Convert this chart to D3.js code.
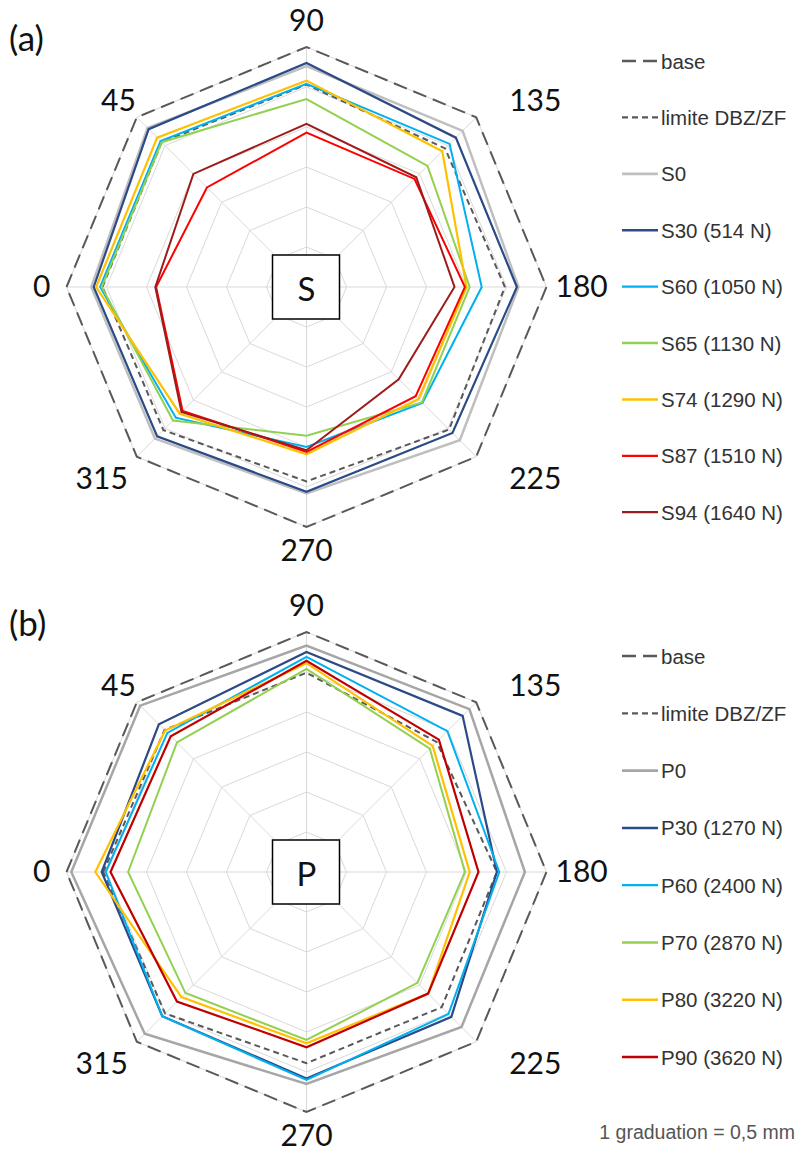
<!DOCTYPE html>
<html>
<head>
<meta charset="utf-8">
<script src="https://cdn.jsdelivr.net/npm/d3@7"></script>
<style>
  html, body { margin: 0; padding: 0; background: #fff; }
  svg { display: block; }
</style>
</head>
<body>
<svg id="chart" width="804" height="1153"></svg>
<script>
// ---------- DATA (values in mm; 1 graduation = 0.5 mm) ----------
const angles = [0, 45, 90, 135, 180, 225, 270, 315];
const angleLabels = ["0", "45", "90", "135", "180", "225", "270", "315"];
const gradTicks = [0.5, 1.0, 1.5, 2.0, 2.5, 3.0];

// chart (a) - S series
const aBase   = [3.00, 3.00, 3.00, 3.00, 3.00, 3.00, 3.00, 3.00];
const aLimite = [2.55, 2.56, 2.53, 2.45, 2.48, 2.52, 2.43, 2.53];
const S0  = [2.69, 2.81, 2.76, 2.76, 2.65, 2.71, 2.58, 2.68];
const S30 = [2.66, 2.79, 2.80, 2.64, 2.63, 2.58, 2.56, 2.64];
const S60 = [2.58, 2.58, 2.54, 2.53, 2.19, 2.05, 2.00, 2.31];
const S65 = [2.56, 2.56, 2.35, 2.14, 2.04, 2.04, 1.86, 2.36];
const S74 = [2.63, 2.64, 2.58, 2.40, 2.00, 1.98, 2.09, 2.24];
const S87 = [1.88, 1.76, 1.93, 1.91, 1.98, 1.93, 2.06, 2.19];
const S94 = [1.89, 2.00, 2.04, 1.94, 1.85, 1.63, 2.04, 2.21];

// chart (b) - P series
const bBase   = [3.00, 3.00, 3.00, 3.00, 3.00, 3.00, 3.00, 3.00];
const bLimite = [2.54, 2.51, 2.49, 2.30, 2.38, 2.39, 2.39, 2.50];
const P0  = [2.94, 2.94, 2.83, 2.88, 2.73, 2.74, 2.65, 2.86];
const P30 = [2.56, 2.61, 2.75, 2.76, 2.38, 2.56, 2.58, 2.55];
const P60 = [2.51, 2.46, 2.69, 2.49, 2.41, 2.51, 2.60, 2.55];
const P70 = [2.23, 2.29, 2.54, 2.18, 1.98, 1.96, 2.10, 2.14];
const P80 = [2.64, 2.50, 2.61, 2.23, 2.04, 2.15, 2.14, 2.21];
const P90 = [2.45, 2.40, 2.64, 2.34, 2.15, 2.15, 2.19, 2.29];

const aNames = ["base", "limite DBZ/ZF", "S0", "S30 (514 N)", "S60 (1050 N)", "S65 (1130 N)", "S74 (1290 N)", "S87 (1510 N)", "S94 (1640 N)"];
const bNames = ["base", "limite DBZ/ZF", "P0", "P30 (1270 N)", "P60 (2400 N)", "P70 (2870 N)", "P80 (3220 N)", "P90 (3620 N)"];
const footnote = "1 graduation = 0,5 mm";

// ---------- STYLES ----------
const styleBase   = { color: "#595959", width: 2, dash: "14,7" };
const styleLimite = { color: "#595959", width: 2, dash: "6,4" };
const aStyles = [
  styleBase, styleLimite,
  { color: "#BFBFBF", width: 2.5 },
  { color: "#2B4A86", width: 2.2 },
  { color: "#00B0F0", width: 2 },
  { color: "#92D050", width: 2 },
  { color: "#FFC000", width: 2.2 },
  { color: "#FF0000", width: 2 },
  { color: "#9E1B1B", width: 2 }
];
const bStyles = [
  styleBase, styleLimite,
  { color: "#A6A6A6", width: 2.5 },
  { color: "#2B4A86", width: 2.2 },
  { color: "#00B0F0", width: 2 },
  { color: "#92D050", width: 2 },
  { color: "#FFC000", width: 2.2 },
  { color: "#C00000", width: 2.2 }
];

const svg = d3.select("#chart");
svg.append("rect").attr("width", 804).attr("height", 1153).attr("fill", "#fff");

const R = 240;
const rScale = d3.scaleLinear().domain([0, 3]).range([0, R]);
const aScale = d3.scaleLinear().domain([0, 360]).range([-Math.PI / 2, 3 * Math.PI / 2]);

// label layout offsets relative to each outer vertex (per angle)
const labelLayout = [
  { dx: -16, dy: 10, anchor: "end" },     // 0
  { dx: -1,  dy: -6, anchor: "end" },     // 45
  { dx: 0,   dy: -16, anchor: "middle" }, // 90
  { dx: 33,  dy: -6, anchor: "start" },   // 135
  { dx: 9,   dy: 10, anchor: "start" },   // 180
  { dx: 33,  dy: 32, anchor: "start" },   // 225
  { dx: 0,   dy: 34, anchor: "middle" },  // 270
  { dx: -9,  dy: 32, anchor: "end" }      // 315
];

function drawRadar(cx, cy, tag, boxLetter, seriesList, names, styles, legendY0, legendStep) {
  const g = svg.append("g").attr("transform", `translate(${cx},${cy})`);

  const radial = d3.lineRadial()
    .angle((d, i) => aScale(angles[i]))
    .radius(d => rScale(d))
    .curve(d3.curveLinearClosed);

  // grid rings
  gradTicks.forEach(t => {
    g.append("path")
      .attr("d", radial(angles.map(() => t)))
      .attr("fill", "none").attr("stroke", "#d9d9d9").attr("stroke-width", 1);
  });
  // spokes
  angles.forEach(a => {
    const ang = aScale(a);
    g.append("line")
      .attr("x1", 0).attr("y1", 0)
      .attr("x2", rScale(3) * Math.sin(ang)).attr("y2", -rScale(3) * Math.cos(ang))
      .attr("stroke", "#d9d9d9").attr("stroke-width", 1);
  });

  // series
  seriesList.forEach((vals, i) => {
    const st = styles[i];
    g.append("path")
      .attr("d", radial(vals))
      .attr("fill", "none")
      .attr("stroke", st.color)
      .attr("stroke-width", st.width)
      .attr("stroke-dasharray", st.dash || null)
      .attr("stroke-linejoin", "miter");
  });

  // axis labels
  angles.forEach((a, i) => {
    const ang = aScale(a);
    const vx = rScale(3) * Math.sin(ang), vy = -rScale(3) * Math.cos(ang);
    const L = labelLayout[i];
    g.append("text")
      .attr("x", vx + L.dx).attr("y", vy + L.dy)
      .attr("text-anchor", L.anchor)
      .attr("font-family", "Lato, 'Open Sans', sans-serif")
      .attr("font-size", 30)
      .attr("fill", "#111")
      .text(angleLabels[i]);
  });

  // centre box
  g.append("rect").attr("x", -34).attr("y", -32).attr("width", 67).attr("height", 64)
    .attr("fill", "#fff").attr("stroke", "#000").attr("stroke-width", 1.5);
  g.append("text").attr("x", 0).attr("y", 1).attr("text-anchor", "middle")
    .attr("dominant-baseline", "central")
    .attr("font-family", "Lato, 'Open Sans', sans-serif").attr("font-size", 33)
    .attr("fill", "#111").text(boxLetter);

  // panel tag
  svg.append("text").attr("x", 9).attr("y", cy - 236)
    .attr("font-family", "Lato, 'Open Sans', sans-serif").attr("font-size", 35)
    .attr("fill", "#111").text(tag);

  // legend
  const lg = svg.append("g");
  names.forEach((n, i) => {
    const y = legendY0 + i * legendStep;
    const st = styles[i];
    lg.append("line").attr("x1", 622).attr("x2", 658).attr("y1", y).attr("y2", y)
      .attr("stroke", st.color).attr("stroke-width", st.width + 0.3)
      .attr("stroke-dasharray", st.dash || null);
    lg.append("text").attr("x", 661).attr("y", y).attr("dominant-baseline", "central")
      .attr("font-family", "'Liberation Sans', Arial, sans-serif").attr("font-size", 20.5)
      .attr("fill", "#333").text(n);
  });
}

drawRadar(306.5, 287, "(a)", "S",
  [aBase, aLimite, S0, S30, S60, S65, S74, S87, S94], aNames, aStyles, 61, 56.4);
drawRadar(306.5, 872, "(b)", "P",
  [bBase, bLimite, P0, P30, P60, P70, P80, P90], bNames, bStyles, 656, 57.3);

svg.append("text").attr("x", 795).attr("y", 1139).attr("text-anchor", "end")
  .attr("font-family", "'Liberation Sans', Arial, sans-serif").attr("font-size", 19.5)
  .attr("fill", "#555").text(footnote);
</script>
</body>
</html>
